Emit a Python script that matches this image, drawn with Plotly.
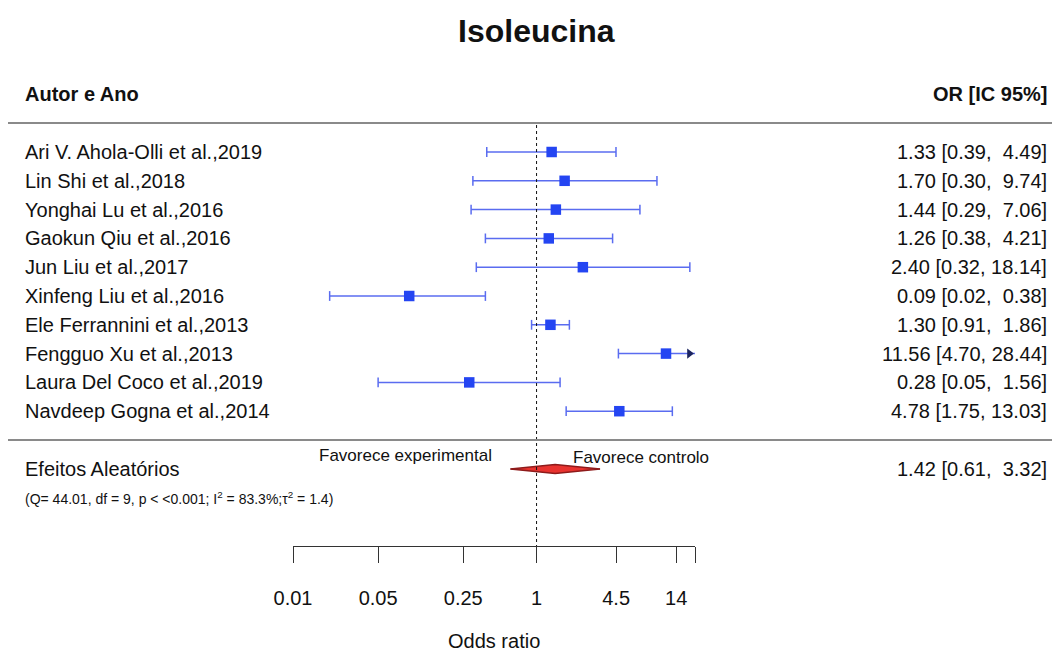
import plotly.graph_objects as go

# ---------------- data ----------------
studies = [
    "Ari V. Ahola-Olli et al.,2019",
    "Lin Shi et al.,2018",
    "Yonghai Lu et al.,2016",
    "Gaokun Qiu et al.,2016",
    "Jun Liu et al.,2017",
    "Xinfeng Liu et al.,2016",
    "Ele Ferrannini et al.,2013",
    "Fengguo Xu et al.,2013",
    "Laura Del Coco et al.,2019",
    "Navdeep Gogna et al.,2014",
]
odds = [1.33, 1.70, 1.44, 1.26, 2.40, 0.09, 1.30, 11.56, 0.28, 4.78]
ci_low = [0.39, 0.30, 0.29, 0.38, 0.32, 0.02, 0.91, 4.70, 0.05, 1.75]
ci_high = [4.49, 9.74, 7.06, 4.21, 18.14, 0.38, 1.86, 28.44, 1.56, 13.03]

summary_label = "Efeitos Aleatórios"
summary_or = 1.42
summary_low = 0.61
summary_high = 3.32
stats_text = "(Q= 44.01, df = 9, p &lt; &lt;0.001; I<sup>2</sup> = 83.3%;τ<sup>2</sup> = 1.4)"

tick_vals = [0.01, 0.05, 0.25, 1, 4.5, 14, 20]
tick_text = ["0.01", "0.05", "0.25", "1", "4.5", "14", " "]
x_min, x_max = 0.01, 20

title = "Isoleucina"
left_header = "Autor e Ano"
right_header = "OR [IC 95%]"
fav_left = "Favorece experimental"
fav_right = "Favorece controlo"
x_title = "Odds ratio"

# ---------------- layout constants ----------------
W, H = 1052, 653
FONT = "Liberation Sans, Arial, sans-serif"
ROW0, STEP = 152, 28.8
SUM_Y = 469
AXIS_Y = 546
BLUE = "#2445f2"
LBLUE = "#5a6cf0"


def fmt(v):
    return f"{v:.2f}"


def ci_text(o, lo, hi):
    hs = fmt(hi)
    pad = "\u00a0\u00a0" if len(hs) < 5 else "\u00a0"
    return f"{fmt(o)} [{fmt(lo)},{pad}{hs}]"


def pyp(p):
    return 1 - p / H


row_y = [ROW0 + i * STEP for i in range(len(studies))]

fig = go.Figure()

seg_x, seg_y = [], []
cap_x, cap_y = [], []
arrow_x, arrow_y = [], []
for o, lo, hi, y in zip(odds, ci_low, ci_high, row_y):
    lo_c = max(lo, x_min)
    hi_c = min(hi, x_max)
    seg_x += [lo_c, hi_c, None]
    seg_y += [y, y, None]
    cap_x.append(lo_c)
    cap_y.append(y)
    if hi > x_max:
        arrow_x.append(x_max * 0.9)
        arrow_y.append(y)
    else:
        cap_x.append(hi_c)
        cap_y.append(y)

fig.add_trace(go.Scatter(x=seg_x, y=seg_y, mode="lines",
                         line=dict(color=LBLUE, width=1.5), hoverinfo="skip"))
fig.add_trace(go.Scatter(x=cap_x, y=cap_y, mode="markers",
                         marker=dict(symbol="line-ns-open", size=7, color=LBLUE,
                                     line=dict(color=LBLUE, width=1.5)),
                         hoverinfo="skip"))
fig.add_trace(go.Scatter(x=arrow_x, y=arrow_y, mode="markers",
                         marker=dict(symbol="triangle-right", size=9, color="#1c2560"),
                         hoverinfo="skip"))
fig.add_trace(go.Scatter(x=odds, y=row_y, mode="markers",
                         marker=dict(symbol="square", size=10.5, color=BLUE,
                                     line=dict(width=0))))

fig.add_trace(go.Scatter(x=[summary_low, summary_high], y=[SUM_Y, SUM_Y], mode="lines",
                         line=dict(color="#7a1515", width=1.2), hoverinfo="skip"))
fig.add_trace(go.Scatter(
    x=[summary_low, summary_or, summary_high, summary_or, summary_low],
    y=[SUM_Y, SUM_Y - 4.5, SUM_Y, SUM_Y + 4.5, SUM_Y],
    mode="lines", fill="toself", fillcolor="#e8332f",
    line=dict(color="#8e1b1b", width=1.5), hoverinfo="skip"))

shapes = [
    dict(type="line", xref="x", yref="y", x0=1, x1=1, y0=125, y1=AXIS_Y,
         line=dict(color="#111", width=1, dash="dot")),
    dict(type="line", xref="paper", yref="y", x0=8 / W, x1=1, y0=123, y1=123,
         line=dict(color="#8a8a8a", width=2)),
    dict(type="line", xref="paper", yref="y", x0=8 / W, x1=1, y0=440, y1=440,
         line=dict(color="#8a8a8a", width=2)),
]

ann = []


def add_text(text, px, py, size, anchor="left", bold=False, color="#111"):
    ann.append(dict(text=f"<b>{text}</b>" if bold else text,
                    x=px / W, y=pyp(py), xref="paper", yref="paper",
                    xanchor=anchor, yanchor="middle", showarrow=False,
                    font=dict(family=FONT, size=size, color=color)))


add_text(title, 536, 31, 32, anchor="center", bold=True)
add_text(left_header, 23, 94, 20, bold=True)
add_text(right_header, 1049, 94, 20, anchor="right", bold=True)
for s, o, lo, hi, y in zip(studies, odds, ci_low, ci_high, row_y):
    add_text(s, 23, y, 20)
    add_text(ci_text(o, lo, hi), 1049, y, 20, anchor="right")
add_text(summary_label, 23, SUM_Y, 20)
add_text(ci_text(summary_or, summary_low, summary_high), 1049, SUM_Y, 20, anchor="right")
add_text(stats_text, 23, 498, 14)
add_text(fav_left, 405, 455, 17, anchor="center")
add_text(fav_right, 641, 457, 17, anchor="center")
add_text(x_title, 494, 641, 20, anchor="center")

x0p, x1p = 293 / W, 695 / W
fig.update_layout(
    template="none",
    width=W, height=H, autosize=False,
    margin=dict(l=0, r=0, t=0, b=0, pad=0),
    paper_bgcolor="white", plot_bgcolor="white",
    showlegend=False,
    shapes=shapes, annotations=ann,
    xaxis=dict(type="log", domain=[x0p, x1p], automargin=False,
               range=[-2, 1.30103],
               tickvals=tick_vals, ticktext=tick_text,
               ticks="outside", ticklen=16, tickwidth=1.2, tickcolor="#333",
               showline=True, linecolor="#333", linewidth=1.2,
               showgrid=False, zeroline=False,
               ticklabelstandoff=18,
               tickfont=dict(family=FONT, size=20, color="#111")),
    yaxis=dict(domain=[1 - AXIS_Y / H, 1], range=[AXIS_Y, 0], automargin=False,
               showgrid=False, zeroline=False, showticklabels=False,
               showline=False, ticks=""),
)

fig.write_html("out.html", config={"displayModeBar": False},
               post_script="document.body.style.margin='0';")
